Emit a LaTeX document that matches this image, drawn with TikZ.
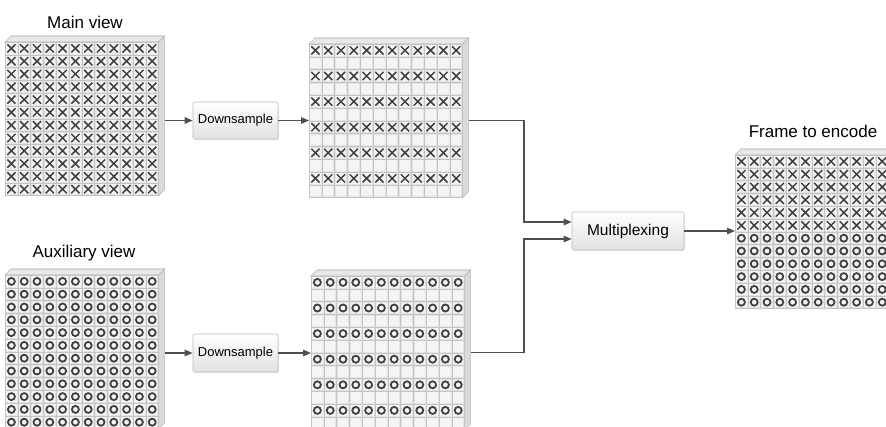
\documentclass[tikz,border=0pt]{standalone}
\usepackage{fontspec}
\setmainfont{Liberation Sans}
\usetikzlibrary{arrows.meta,shadows}
\definecolor{linecol}{HTML}{4F4F4F}
\definecolor{cellline}{HTML}{C4C4C4}
\definecolor{cellbg}{HTML}{E4E4E4}
\definecolor{cellin}{HTML}{F4F4F4}
\definecolor{markcol}{HTML}{404040}
\definecolor{topcol}{HTML}{E8E8E8}
\definecolor{sidecol}{HTML}{DADADA}
\definecolor{boxline}{HTML}{BDBDBD}
\definecolor{boxbot}{HTML}{E2E2E2}
\tikzset{
  gridface/.style={minimum width=153.6pt,minimum height=153.6pt,inner sep=0pt,outer sep=0pt,fill=cellbg,draw=cellline,line width=0.6pt},
  slabtop/.style={fill=topcol,draw=cellline,line width=0.6pt},
  slabside/.style={fill=sidecol,draw=cellline,line width=0.6pt},
  cellrect/.style={fill=cellin,draw=cellline,line width=0.5pt},
  xmark/.style={draw=markcol,line width=1.5pt},
  omark/.style={draw=markcol,line width=1.8pt},
  procbox/.style={draw=boxline,line width=0.7pt,top color=white,bottom color=boxbot,rounded corners=1.5pt,inner sep=0pt,
    drop shadow={opacity=0.18,shadow xshift=1pt,shadow yshift=-1.2pt}},
  conn/.style={draw=linecol,line width=1.3pt,-{Triangle[length=8pt,width=6.5pt]}},
  label/.style={font=\fontsize{17}{20}\selectfont,inner sep=0pt},
}
% #1 name, #2 x, #3 y (top-left of front face), #4 pattern
% 0 all X, 1 all O, 2 X on alternate rows, 3 O on alternate rows, 4 top half X / bottom half O
\newcommand\gridslab[4]{%
  \fill[slabtop] (#2,#3) -- ++(6,-6) -- ++(153.6,0) -- ++(-6,6) -- cycle;
  \fill[slabside] (#2+153.6,#3) -- ++(6,-6) -- ++(0,153.6) -- ++(-6,6) -- cycle;
  \draw[slabtop,fill=none] (#2,#3) -- ++(6,-6) -- ++(153.6,0) -- ++(-6,6) -- cycle;
  \draw[slabside,fill=none] (#2+153.6,#3) -- ++(6,-6) -- ++(0,153.6) -- ++(-6,6) -- cycle;
  \node[gridface] (#1) at (#2+76.8,#3+76.8) {};
  \foreach \j in {0,...,11}{%
    \ifcase#4 \def\kind{1}\or \def\kind{2}\or
      \ifodd\j \def\kind{0}\else \def\kind{1}\fi\or
      \ifodd\j \def\kind{0}\else \def\kind{2}\fi\or
      \ifnum\j<6 \def\kind{1}\else \def\kind{2}\fi
    \fi
    \foreach \i in {0,...,11}{%
      \pgfmathsetmacro\cx{#2+\i*12.8}%
      \pgfmathsetmacro\cy{#3+\j*12.8}%
      \fill[cellrect,draw=none] (\cx+1.2,\cy+1.2) rectangle ++(10.4,10.4);
      \draw[cellline,line width=0.5pt] (\cx,\cy) rectangle ++(12.8,12.8);
      \ifnum\kind=1
        \draw[xmark] (\cx+2.3,\cy+2.3) -- ++(8.2,8.2) (\cx+2.3,\cy+10.5) -- ++(8.2,-8.2);
      \fi
      \ifnum\kind=2
        \draw[omark] (\cx+6.4,\cy+6.4) circle[radius=3.5pt];
      \fi
    }%
  }%
}
\begin{document}
\begin{tikzpicture}[x=1pt,y=-1pt]
\useasboundingbox (0,0) rectangle (886,426);
\clip (0,0) rectangle (886,426);
\fill[white] (0,0) rectangle (886,426);

% labels
\node[label] (lmain) at (85,22) {Main view};
\node[label] (laux) at (84,253) {Auxiliary view};
\node[label] (lframe) at (813,131) {Frame to encode};

% grids
\gridslab{main}{5}{42}{0}
\gridslab{midA}{309}{44}{2}
\gridslab{aux}{5}{275}{1}
\gridslab{midB}{311}{276}{3}
\gridslab{frame}{735}{155}{4}

% process boxes
\node[procbox,minimum width=85pt,minimum height=37pt,font=\fontsize{13}{15}\selectfont] (dsA) at (235.5,120.5) {Downsample};
\node[procbox,minimum width=85pt,minimum height=38pt,font=\fontsize{13}{15}\selectfont] (dsB) at (235.5,353) {Downsample};
\node[procbox,minimum width=112pt,minimum height=38pt,font=\fontsize{15.5}{18}\selectfont] (mux) at (628,231) {Multiplexing};

\coordinate (jA) at (524,222);
\coordinate (jB) at (524,239);

% connectors
\draw[conn] (dsA.west -| main.east) ++(6,0) -- (dsA.west);
\draw[conn] (dsA.east) -- (dsA.east -| midA.west);
\draw[conn] (dsB.west -| aux.east) ++(6,0) -- (dsB.west);
\draw[conn] (dsB.east) -- (dsB.east -| midB.west);
\draw[conn] (midA.east) ++(6,0) -| (jA) -- (jA -| mux.west);
\draw[conn] (midB.east) ++(6,0) -| (jB) -- (jB -| mux.west);
\draw[conn] (mux.east) -- (mux.east -| frame.west);
\end{tikzpicture}
\end{document}
